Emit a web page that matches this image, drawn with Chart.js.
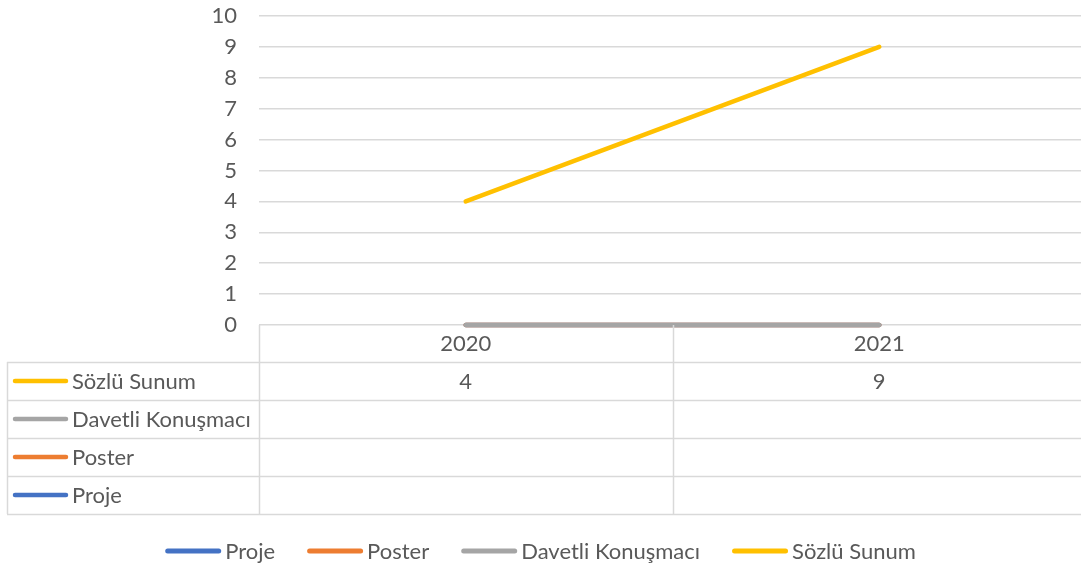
<!DOCTYPE html>
<html><head><meta charset="utf-8">
<script src="https://cdn.jsdelivr.net/npm/chart.js@4"></script>
<style>html,body{margin:0;padding:0;background:#fff;overflow:hidden;width:1081px;height:568px}#wrap{width:1086px;height:568px;position:relative}</style>
</head><body><div id="wrap"><canvas id="c"></canvas></div>
<script>
// ---- data ----
const categories = ['2020', '2021'];
const seriesNames = ['Proje', 'Poster', 'Davetli Konuşmacı', 'Sözlü Sunum'];
const proje = [null, null];
const poster = [null, null];
const davetli = [null, null];
const sozlu = [4, 9];
const seriesColors = ['#4472C4', '#ED7D31', '#A5A5A5', '#FFC000'];
const yMin = 0, yMax = 10, yStep = 1;

const seriesValues = [proje, poster, davetli, sozlu];
const FONT = 'Lato';
const FSIZE = 22;
const TXT = '#595959';
const GRID = '#D9D9D9';
const VIEW_W = 1081;
Chart.defaults.font.family = FONT;
Chart.defaults.font.size = FSIZE;
Chart.defaults.color = TXT;

const ROW0 = 37, ROWH = 38;

const tablePlugin = {
  id: 'dataTable',
  afterDraw(chart) {
    const ctx = chart.ctx, x = chart.scales.x, a = chart.chartArea;
    const top = a.bottom;
    const n = categories.length;
    const rows = seriesNames.length;
    const bottom = top + ROW0 + ROWH * rows;
    const leftEdge = 7;
    const bounds = [];
    for (let i = 0; i <= n; i++) {
      bounds.push(i === 0 ? a.left : (i === n ? a.right : (x.getPixelForValue(i - 1) + x.getPixelForValue(i)) / 2));
    }
    ctx.save();
    ctx.strokeStyle = GRID; ctx.lineWidth = 1.5;
    for (let r = 0; r <= rows; r++) {
      const y = Math.round(top + ROW0 + ROWH * r) + 0.5;
      ctx.beginPath(); ctx.moveTo(leftEdge, y); ctx.lineTo(chart.width, y); ctx.stroke();
    }
    for (let i = 0; i < n; i++) {
      const xx = Math.round(bounds[i]) + 0.5;
      ctx.beginPath(); ctx.moveTo(xx, top); ctx.lineTo(xx, bottom); ctx.stroke();
    }
    ctx.beginPath(); ctx.moveTo(leftEdge + 0.5, top + ROW0); ctx.lineTo(leftEdge + 0.5, bottom); ctx.stroke();
    ctx.font = FSIZE + 'px ' + FONT;
    ctx.textBaseline = 'middle';
    for (let r = 0; r < rows; r++) {
      const si = rows - 1 - r;
      const cy = top + ROW0 + ROWH * r + ROWH / 2;
      ctx.strokeStyle = seriesColors[si]; ctx.lineWidth = 4.5; ctx.lineCap = 'round';
      ctx.beginPath(); ctx.moveTo(15, cy); ctx.lineTo(66, cy); ctx.stroke();
      ctx.fillStyle = TXT; ctx.textAlign = 'left';
      ctx.fillText(seriesNames[si], 72, cy + 1);
      ctx.textAlign = 'center';
      seriesValues[si].forEach((v, i) => {
        if (v !== null && v !== undefined) ctx.fillText(String(v), x.getPixelForValue(i), cy + 1);
      });
    }

    // legend (series order), centred in the visible window
    const boxW = 56, gapT = 4, gapItem = 32;
    const widths = seriesNames.map(s => boxW + gapT + ctx.measureText(s).width);
    const total = widths.reduce((p, c) => p + c, 0) + gapItem * (seriesNames.length - 1);
    let lx = (VIEW_W - total) / 2;
    const ly = 551;
    ctx.textAlign = 'left';
    seriesNames.forEach((s, i) => {
      ctx.strokeStyle = seriesColors[i]; ctx.lineWidth = 5; ctx.lineCap = 'round';
      ctx.beginPath(); ctx.moveTo(lx + 2.5, ly); ctx.lineTo(lx + boxW - 2.5, ly); ctx.stroke();
      ctx.fillStyle = TXT;
      ctx.fillText(s, lx + boxW + gapT, ly + 1);
      lx += widths[i] + gapItem;
    });
    ctx.restore();
  }
};

const datasets = seriesNames.map((name, i) => ({
  label: name,
  data: seriesValues[i].map(v => (v === null ? 0 : v)),
  borderColor: seriesColors[i],
  backgroundColor: seriesColors[i],
  borderWidth: 4.5,
  borderCapStyle: 'round',
  pointRadius: 0,
  pointHoverRadius: 0,
  tension: 0,
  fill: false,
  clip: false,
  order: seriesNames.length - 1 - i
}));

new Chart(document.getElementById('c'), {
  type: 'line',
  data: { labels: categories, datasets },
  options: {
    responsive: true,
    maintainAspectRatio: false,
    animation: false,
    events: [],
    layout: { padding: { top: 16, right: 0, left: 0, bottom: 53 } },
    scales: {
      x: {
        offset: true,
        grid: { display: false, drawTicks: false },
        border: { display: false },
        ticks: { padding: 6, color: TXT, maxRotation: 0 },
        afterFit(s) { s.height = 190; }
      },
      y: {
        min: yMin, max: yMax,
        ticks: { stepSize: yStep, padding: 22, color: TXT, autoSkip: false },
        grid: { color: GRID, lineWidth: 1.5, drawTicks: false },
        border: { display: false },
        afterFit(s) { s.width = 259; s.paddingTop = 0; s.paddingBottom = 0; }
      }
    },
    plugins: {
      tooltip: { enabled: false },
      legend: { display: false }
    }
  },
  plugins: [tablePlugin]
});
</script>
</body></html>
